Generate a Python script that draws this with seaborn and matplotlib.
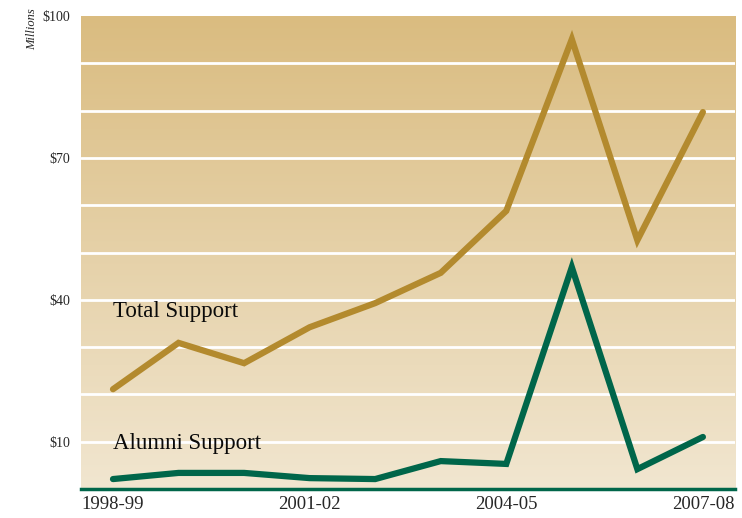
import numpy as np
import pandas as pd
import matplotlib
matplotlib.use("Agg")
import matplotlib.pyplot as plt
from matplotlib.colors import LinearSegmentedColormap
import seaborn as sns

# data (millions of dollars)
years = ["1998-99", "1999-00", "2000-01", "2001-02", "2002-03",
         "2003-04", "2004-05", "2005-06", "2006-07", "2007-08"]
total_support = [21.1, 30.9, 26.6, 34.2, 39.3, 45.7, 58.8, 95.1, 52.6, 79.7]
alumni_support = [2.1, 3.4, 3.4, 2.3, 2.1, 5.9, 5.3, 46.9, 4.2, 11.0]
shown_years = ["1998-99", "2001-02", "2004-05", "2007-08"]
y_labels = {10: "$10", 40: "$40", 70: "$70", 100: "$100"}

gold = "#B38A2E"
green = "#00664A"

sns.set_style("white")
plt.rcParams["font.family"] = ["Liberation Serif", "DejaVu Serif"]

df = pd.DataFrame({"idx": range(len(years)), "year": years,
                   "total": total_support, "alumni": alumni_support})

fig = plt.figure(figsize=(7.42, 5.18), dpi=100)
ax = fig.add_axes([0.109, 0.056, 0.8816, 0.913])

xmin, xmax = -0.49, len(years) - 1 + 0.49
ax.set_xlim(xmin, xmax)
ax.set_ylim(0, 100)

# gradient background
cmap = LinearSegmentedColormap.from_list("bg", ["#F1E6D0", "#DABC80"])
grad = np.linspace(0, 1, 256).reshape(-1, 1)
ax.imshow(grad, cmap=cmap, origin="lower", aspect="auto",
          extent=[xmin, xmax, 0, 100], zorder=0)

# white gridlines every 10
for y in range(10, 100, 10):
    ax.axhline(y, color="white", lw=2.0, zorder=1)

sns.lineplot(data=df, x="idx", y="total", ax=ax, color=gold, lw=4.5,
             solid_capstyle="round", solid_joinstyle="miter", zorder=3)
sns.lineplot(data=df, x="idx", y="alumni", ax=ax, color=green, lw=4.5,
             solid_capstyle="round", solid_joinstyle="miter", zorder=3)

ax.text(0, 37.6, "Total Support", fontsize=16.5, va="center", ha="left",
        color="#0a0a0a", zorder=4)
ax.text(0, 9.6, "Alumni Support", fontsize=16.5, va="center", ha="left",
        color="#0a0a0a", zorder=4)

ax.set_xticks([years.index(y) for y in shown_years])
ax.set_xticklabels(shown_years, fontsize=13.5)
ax.set_yticks(list(y_labels.keys()))
ax.set_yticklabels(list(y_labels.values()), fontsize=10)
ax.tick_params(length=0, pad=8)
ax.tick_params(axis="x", pad=5)
ax.set_xlabel("")
ax.set_ylabel("")

for side in ["top", "left", "right"]:
    ax.spines[side].set_visible(False)
ax.spines["bottom"].set_color(green)
ax.spines["bottom"].set_linewidth(2.5)
ax.spines["bottom"].set_zorder(5)

fig.text(0.043, 0.985, "Millions", rotation=90, style="italic", fontsize=9,
         ha="center", va="top")

fig.savefig("out.png", dpi=100)
